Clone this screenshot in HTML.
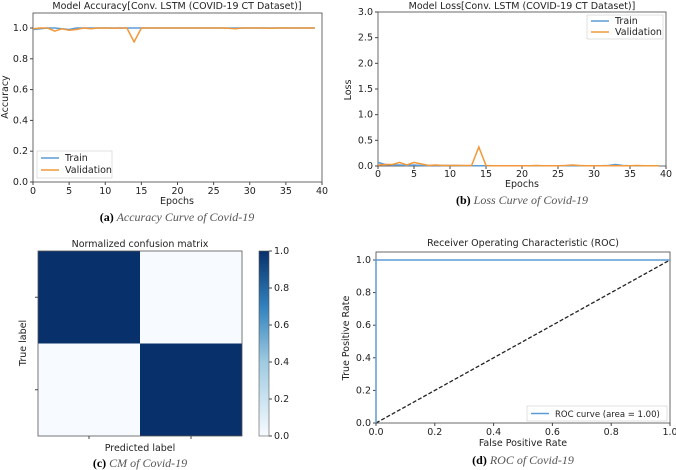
<!DOCTYPE html>
<html><head><meta charset="utf-8"><style>
body{margin:0;background:#fff;}
svg{display:block;font-family:"DejaVu Sans","Liberation Sans",sans-serif;}
.cap{font-family:"Liberation Serif",serif;}
</style></head><body>
<svg id="s" width="676" height="470" viewBox="0 0 676 470"></svg>
<script>
const epochs=[];for(let i=0;i<40;i++)epochs.push(i);
const accTrain=[0.99,0.995,1.0,1.0,0.995,0.99,1.0,1.0,1.0,1.0,1.0,1.0,1.0,1.0,1.0,1.0,1.0,1.0,1.0,1.0,1.0,1.0,1.0,1.0,1.0,1.0,1.0,1.0,1.0,1.0,1.0,1.0,1.0,1.0,1.0,1.0,1.0,1.0,1.0,1.0];
const accVal=[0.995,1.0,1.0,0.98,0.995,0.985,0.99,1.0,0.995,1.0,1.0,0.998,1.0,1.0,0.91,1.0,1.0,1.0,1.0,1.0,1.0,1.0,1.0,1.0,1.0,1.0,1.0,0.998,0.995,1.0,1.0,1.0,1.0,0.998,1.0,1.0,1.0,1.0,1.0,1.0];
const lossTrain=[0.07,0.03,0.02,0.02,0.01,0.02,0.01,0.01,0.01,0.01,0.01,0.01,0.005,0.005,0.005,0.005,0.005,0.005,0.005,0.005,0.005,0.005,0.005,0.005,0.005,0.005,0.005,0.005,0.005,0.005,0.005,0.005,0.01,0.03,0.01,0.005,0.005,0.005,0.005,0.005];
const lossVal=[0.02,0.03,0.03,0.07,0.02,0.07,0.04,0.01,0.02,0.01,0.01,0.01,0.01,0.01,0.37,0.01,0.005,0.005,0.005,0.005,0.005,0.005,0.01,0.005,0.005,0.005,0.01,0.02,0.01,0.005,0.005,0.005,0.005,0.005,0.005,0.005,0.01,0.005,0.005,0.005];
const cmRows=[[1,0],[0,1]];
const rocFpr=[0,0,1];
const rocTpr=[0,1,1];
const xTicksEp=[0,5,10,15,20,25,30,35,40];
const accTicks=[0,0.2,0.4,0.6,0.8,1.0];
const lossTicks=[0,0.5,1.0,1.5,2.0,2.5,3.0];
const cbTicks=[0,0.2,0.4,0.6,0.8,1.0];
const rocTicks=[0,0.2,0.4,0.6,0.8,1.0];

const S=document.getElementById('s');const NS='http://www.w3.org/2000/svg';
function el(t,a,p){const e=document.createElementNS(NS,t);for(const k in a)e.setAttribute(k,a[k]);(p||S).appendChild(e);return e;}
function txt(x,y,s,a){const e=el('text',Object.assign({x:x,y:y,'font-size':9.5,fill:'#222'},a||{}));e.textContent=s;return e;}
function lin(d0,d1,r0,r1){return v=>r0+(v-d0)/(d1-d0)*(r1-r0);}
function poly(xs,ys,X,Y,stroke,extra){let d='';xs.forEach((v,i)=>{d+=(i?'L':'M')+X(v).toFixed(1)+','+Y(ys[i]).toFixed(1);});return el('path',Object.assign({d:d,fill:'none',stroke:stroke,'stroke-width':1.5},extra||{}));}

// Panel A
{const X=lin(0,40,33,322),Y=lin(0,1,182,28);
txt(177,9,'Model Accuracy[Conv. LSTM (COVID-19 CT Dataset)]',{'text-anchor':'middle','font-size':9.5});
el('rect',{x:33,y:13,width:289,height:169,fill:'none',stroke:'#444','stroke-width':0.8});
xTicksEp.forEach(t=>{el('line',{x1:X(t),x2:X(t),y1:182,y2:185,stroke:'#444'});txt(X(t),194,String(t),{'text-anchor':'middle'});});
accTicks.forEach(t=>{el('line',{x1:30,x2:33,y1:Y(t),y2:Y(t),stroke:'#444'});txt(28,Y(t)+3,t.toFixed(1),{'text-anchor':'end'});});
txt(177,204,'Epochs',{'text-anchor':'middle'});
txt(8,97,'Accuracy',{'text-anchor':'middle',transform:'rotate(-90 8 97)'});
const p1=poly(epochs,accTrain,X,Y,'#5b9bd5');
const p2=poly(epochs,accVal,X,Y,'#f0983a');
el('rect',{x:37,y:151,width:75,height:27,fill:'#fff',stroke:'#ccc','stroke-width':0.6});
el('line',{x1:41,x2:59,y1:158,y2:158,stroke:'#5b9bd5','stroke-width':1.5});txt(65,161,'Train');
el('line',{x1:41,x2:59,y1:170,y2:170,stroke:'#f0983a','stroke-width':1.5});txt(65,173,'Validation');
const c=txt(177,221,'',{'text-anchor':'middle','font-size':12,class:'cap'});c.innerHTML='<tspan font-weight="bold" fill="#000">(a)</tspan><tspan font-style="italic" fill="#555"> Accuracy Curve of Covid-19</tspan>';}

// Panel B
{const X=lin(0,40,378,666),Y=lin(0,3,166,12);
txt(522,9,'Model Loss[Conv. LSTM (COVID-19 CT Dataset)]',{'text-anchor':'middle','font-size':9.5});
el('rect',{x:378,y:12,width:288,height:154,fill:'none',stroke:'#444','stroke-width':0.8});
xTicksEp.forEach(t=>{el('line',{x1:X(t),x2:X(t),y1:166,y2:169,stroke:'#444'});txt(X(t),177,String(t),{'text-anchor':'middle'});});
lossTicks.forEach(t=>{el('line',{x1:375,x2:378,y1:Y(t),y2:Y(t),stroke:'#444'});txt(373,Y(t)+3,t.toFixed(1),{'text-anchor':'end'});});
txt(522,187,'Epochs',{'text-anchor':'middle'});
txt(351,90,'Loss',{'text-anchor':'middle',transform:'rotate(-90 351 90)'});
const p1=poly(epochs,lossTrain,X,Y,'#5b9bd5');
const p2=poly(epochs,lossVal,X,Y,'#f0983a');
el('rect',{x:587,y:15,width:76,height:24,fill:'#fff',stroke:'#ccc','stroke-width':0.6});
el('line',{x1:591,x2:609,y1:21,y2:21,stroke:'#5b9bd5','stroke-width':1.5});txt(615,24,'Train');
el('line',{x1:591,x2:609,y1:32,y2:32,stroke:'#f0983a','stroke-width':1.5});txt(615,35,'Validation');
const c=txt(522,204,'',{'text-anchor':'middle','font-size':12,class:'cap'});c.innerHTML='<tspan font-weight="bold" fill="#000">(b)</tspan><tspan font-style="italic" fill="#555"> Loss Curve of Covid-19</tspan>';}

// Panel C
{const x0=38,x1=242,y0=251,y1=436;const cw=(x1-x0)/2,ch=(y1-y0)/2;
function col(v){const a=[247,251,255],b=[8,48,107];return 'rgb('+a.map((c,i)=>Math.round(c+(b[i]-c)*v)).join(',')+')';}
txt(140,247,'Normalized confusion matrix',{'text-anchor':'middle','font-size':9.5});
cmRows.forEach((r,i)=>r.forEach((v,j)=>{const e=el('rect',{x:x0+j*cw,y:y0+i*ch,width:cw,height:ch,fill:col(v)});}));
el('rect',{x:x0,y:y0,width:x1-x0,height:y1-y0,fill:'none',stroke:'#555','stroke-width':0.8});
[0,1].forEach(k=>{el('line',{x1:x0+cw*(k+0.5),x2:x0+cw*(k+0.5),y1:y1,y2:y1+3,stroke:'#444'});el('line',{x1:x0-3,x2:x0,y1:y0+ch*(k+0.5),y2:y0+ch*(k+0.5),stroke:'#444'});});
txt(140,451,'Predicted label',{'text-anchor':'middle'});
txt(26,343,'True label',{'text-anchor':'middle',transform:'rotate(-90 26 343)'});
const gd=el('linearGradient',{id:'cb',x1:0,y1:1,x2:0,y2:0},el('defs',{}));
el('stop',{offset:0,'stop-color':'#f7fbff'},gd);el('stop',{offset:0.4,'stop-color':'#9ecae1'},gd);el('stop',{offset:0.7,'stop-color':'#3182bd'},gd);el('stop',{offset:1,'stop-color':'#08306b'},gd);
const cb=el('rect',{x:259,y:251,width:10,height:185,fill:'url(#cb)',stroke:'#555','stroke-width':0.6});
const CY=lin(0,1,436,251);
cbTicks.forEach(t=>{el('line',{x1:269,x2:272,y1:CY(t),y2:CY(t),stroke:'#444'});txt(274,CY(t)+3,t.toFixed(1));});
const c=txt(140,467,'',{'text-anchor':'middle','font-size':12,class:'cap'});c.innerHTML='<tspan font-weight="bold" fill="#000">(c)</tspan><tspan font-style="italic" fill="#555"> CM of Covid-19</tspan>';}

// Panel D
{const X=lin(0,1,376,670),Y=lin(0,1,423,260);
txt(523,246,'Receiver Operating Characteristic (ROC)',{'text-anchor':'middle','font-size':9.5});
el('rect',{x:376,y:252,width:294,height:171,fill:'none',stroke:'#444','stroke-width':0.8});
rocTicks.forEach(t=>{el('line',{x1:X(t),x2:X(t),y1:423,y2:426,stroke:'#444'});txt(X(t),435,t.toFixed(1),{'text-anchor':'middle'});
el('line',{x1:373,x2:376,y1:Y(t),y2:Y(t),stroke:'#444'});txt(371,Y(t)+3,t.toFixed(1),{'text-anchor':'end'});});
txt(523,446,'False Positive Rate',{'text-anchor':'middle'});
txt(349,338,'True Positive Rate',{'text-anchor':'middle',transform:'rotate(-90 349 338)'});
const dl=el('line',{x1:X(0),y1:Y(0),x2:X(1),y2:Y(1),stroke:'#222','stroke-width':1.3,'stroke-dasharray':'4,2'});
const p=poly(rocFpr,rocTpr,X,Y,'#5b9bd5');
el('rect',{x:527,y:406,width:140,height:15,fill:'#fff',stroke:'#ccc','stroke-width':0.6});
el('line',{x1:531,x2:549,y1:413.5,y2:413.5,stroke:'#5b9bd5','stroke-width':1.5});txt(555,417,'ROC curve (area = 1.00)',{'font-size':8.5});
const c=txt(523,464,'',{'text-anchor':'middle','font-size':12,class:'cap'});c.innerHTML='<tspan font-weight="bold" fill="#000">(d)</tspan><tspan font-style="italic" fill="#555"> ROC of Covid-19</tspan>';}
</script>
</body></html>
